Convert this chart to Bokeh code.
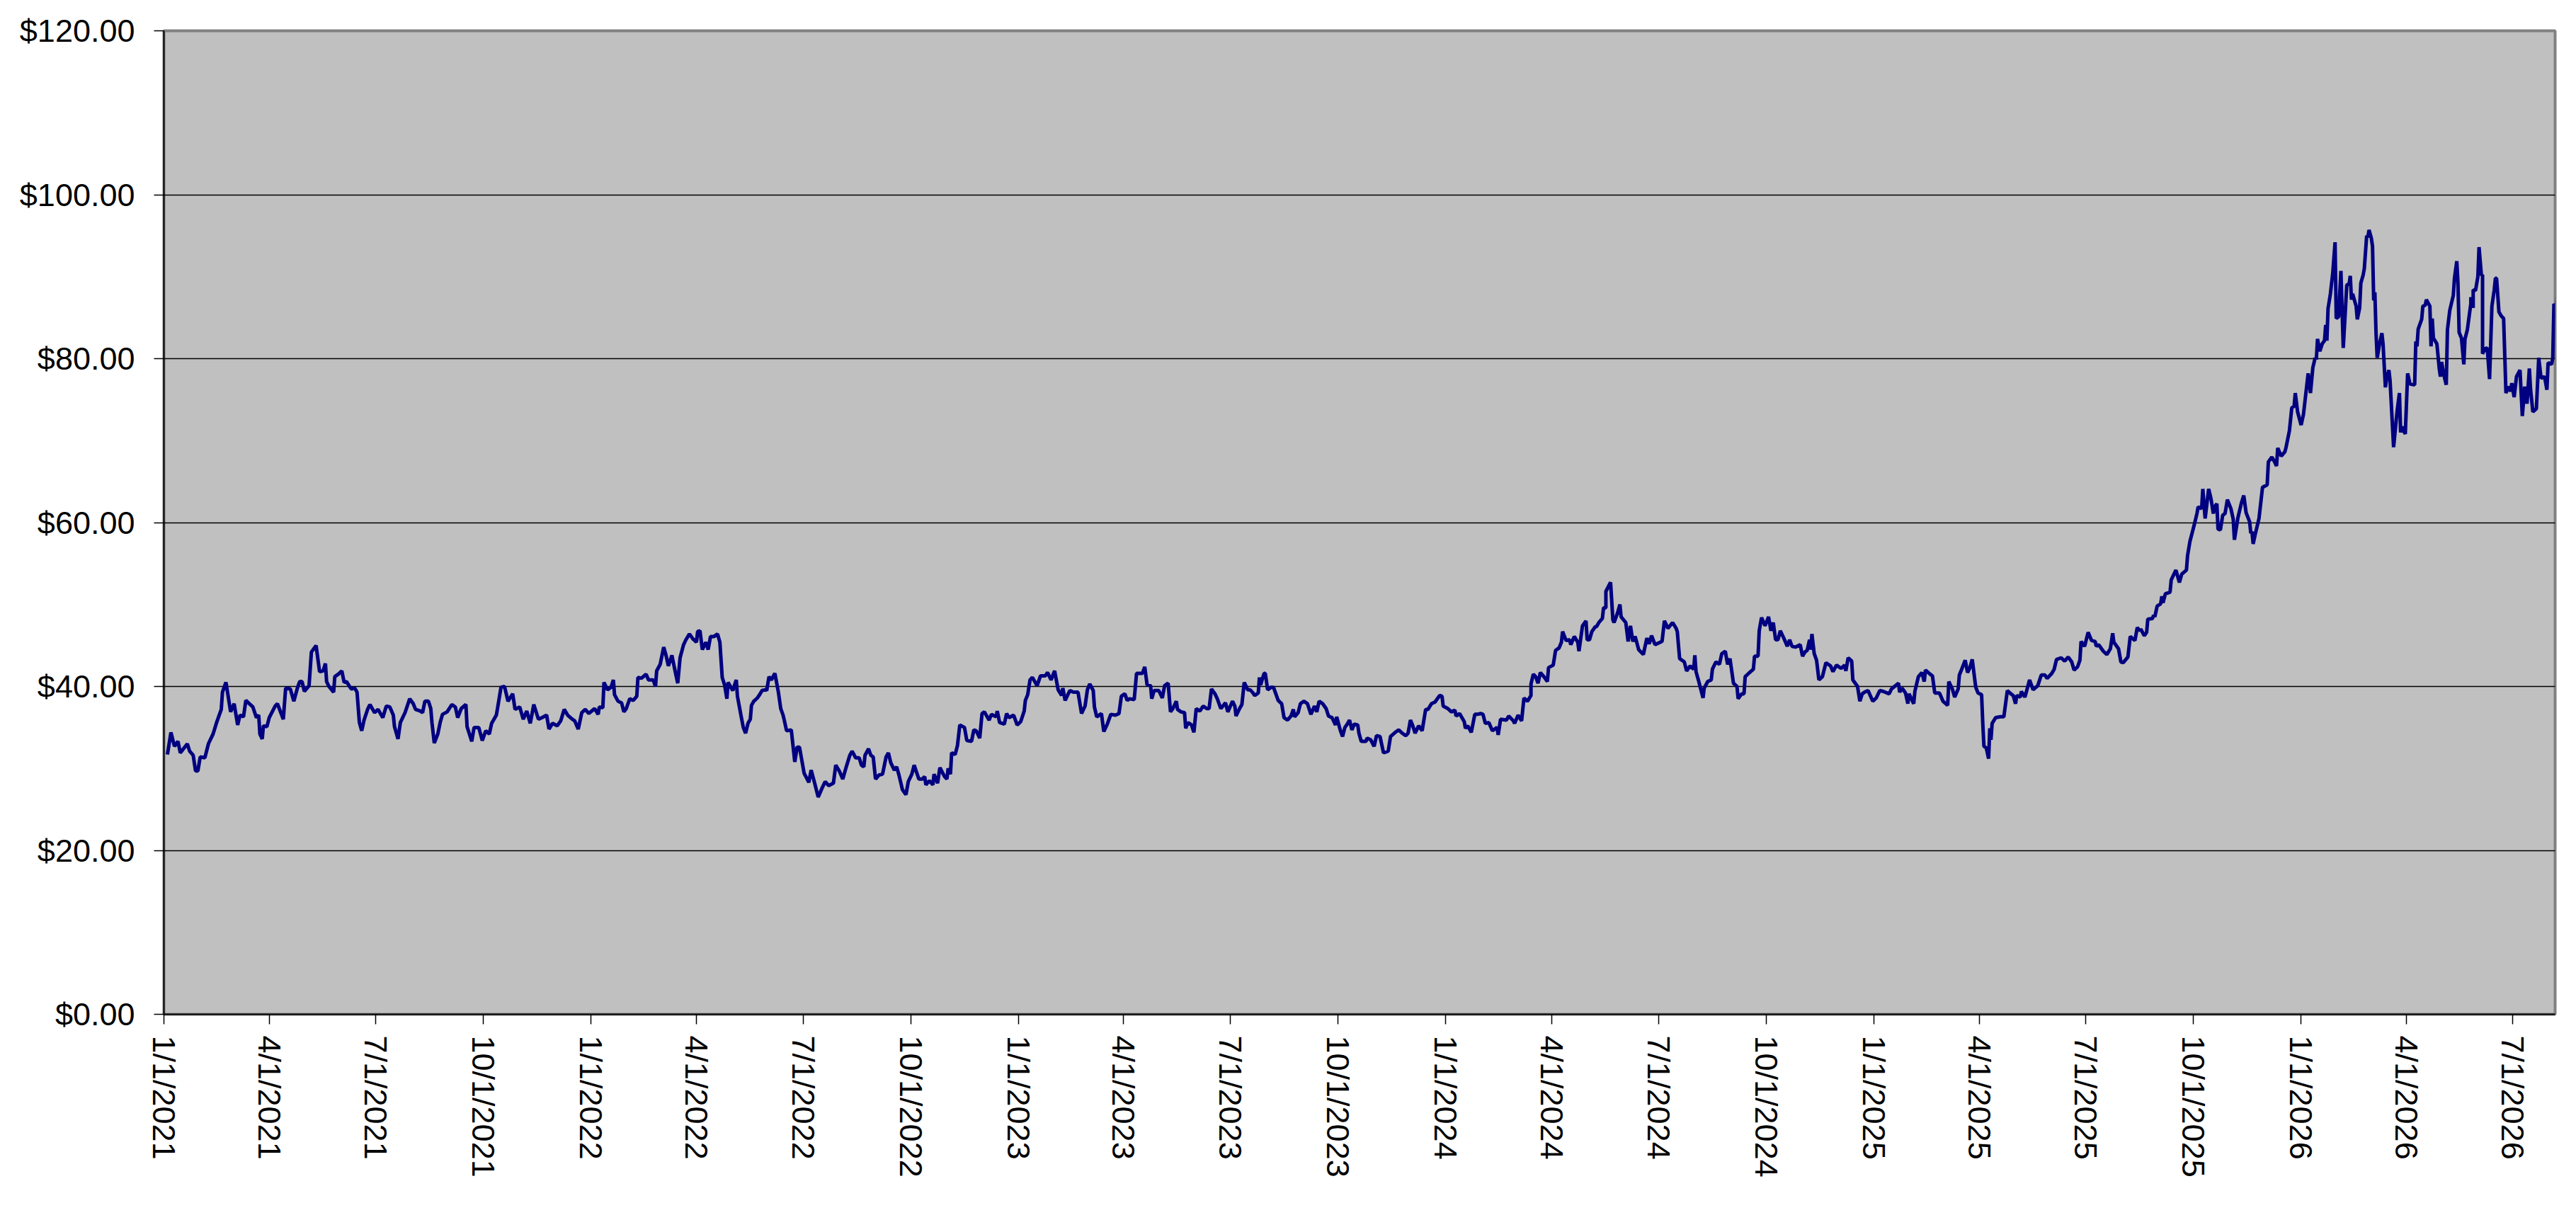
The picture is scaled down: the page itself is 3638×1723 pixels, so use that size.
import pandas as pd
from bokeh.plotting import figure
from bokeh.models import (ColumnDataSource, Range1d, FixedTicker,
                          NumeralTickFormatter, CustomJSTickFormatter)
from bokeh.embed import file_html
from bokeh.resources import INLINE

# ---------------- data (day offsets from start date, price in USD) ----------------
start_date = "2021-01-01"

days_2021 = [3, 6, 9, 12, 14, 20, 22, 25, 27, 29,
             31, 35, 38, 42, 45, 49, 50, 53, 57, 60,
             63, 65, 68, 70, 73, 76, 79, 81, 82, 84,
             85, 88, 90, 95, 97, 102, 104, 108, 111, 114,
             116, 118, 120, 124, 126, 130, 133, 136, 138, 139,
             141, 145, 146, 149, 152, 154, 156, 160, 163, 165,
             167, 169, 171, 174, 176, 180, 183, 187, 190, 193,
             196, 197, 200, 202, 206, 210, 213, 215, 219, 221,
             223, 226, 228, 229, 231, 234, 236, 238, 242, 246,
             249, 251, 254, 258, 259, 263, 265, 269, 272, 275,
             278, 280, 284, 285, 288, 291, 294, 298, 300, 304,
             307, 310, 313, 316, 320, 323, 327, 329, 332, 336,
             339, 342, 345, 349, 351, 354, 357, 360]
usd_2021 = [31.7, 34.4, 32.7, 33.3, 31.9, 33.0, 32.1, 31.6, 29.7, 29.7,
            31.4, 31.3, 33.0, 34.2, 35.6, 37.2, 39.3, 40.5, 36.9, 37.9,
            35.3, 36.5, 36.3, 38.3, 37.9, 37.5, 36.2, 36.5, 34.2, 33.6,
            35.2, 35.1, 36.2, 37.6, 37.9, 36.0, 39.8, 39.7, 38.2, 39.8,
            40.6, 40.6, 39.4, 40.1, 44.2, 45.0, 41.8, 41.9, 42.8, 40.6,
            40.0, 39.3, 41.2, 41.5, 41.9, 40.5, 40.6, 39.7, 39.8, 39.3,
            35.6, 34.6, 35.9, 37.2, 37.8, 36.8, 37.2, 36.2, 37.6, 37.5,
            36.5, 35.1, 33.6, 35.6, 36.8, 38.5, 37.9, 37.2, 37.0, 36.8,
            38.2, 38.2, 37.3, 35.6, 33.1, 34.2, 35.6, 36.6, 36.9, 37.8,
            37.5, 36.2, 37.3, 37.8, 35.1, 33.3, 35.0, 35.0, 33.4, 34.6,
            34.2, 35.5, 36.5, 37.3, 39.9, 40.0, 38.2, 39.1, 37.2, 37.5,
            36.0, 37.0, 35.5, 37.8, 36.0, 36.2, 36.5, 34.8, 35.5, 35.2,
            35.8, 37.2, 36.5, 36.0, 35.8, 34.8, 36.8, 37.2]

days_2022 = [363, 368, 371, 372, 375, 376, 379, 382, 384, 385,
             388, 391, 393, 395, 398, 401, 404, 405, 408, 412,
             414, 418, 420, 421, 424, 427, 429, 431, 434, 437,
             439, 441, 444, 446, 449, 452, 455, 456, 458, 460,
             463, 465, 467, 470, 473, 475, 477, 479, 481, 482,
             486, 489, 490, 493, 495, 497, 499, 501, 502, 504,
             507, 509, 511, 514, 515, 517, 519, 522, 525, 527,
             529, 530, 532, 536, 539, 541, 543, 545, 547, 551,
             553, 556, 559, 562, 565, 568, 572, 574, 577, 580,
             583, 586, 588, 591, 594, 596, 598, 599, 602, 604,
             606, 608, 611, 614, 617, 619, 621, 624, 626, 628,
             631, 634, 636, 639, 641, 645, 648, 650, 651, 654,
             657, 658, 661, 663, 667, 669, 670, 672, 673, 676,
             678, 680, 684, 686, 690, 692, 694, 697, 699, 701,
             705, 707, 711, 712, 714, 718, 720, 722]
usd_2022 = [36.7, 37.3, 36.6, 37.5, 37.4, 40.5, 39.6, 39.9, 40.8, 39.0,
            38.2, 38.0, 36.9, 37.3, 38.5, 38.3, 38.8, 41.1, 41.0, 41.5,
            40.8, 40.8, 40.0, 41.9, 42.7, 44.8, 43.8, 42.5, 43.8, 41.7,
            40.4, 43.5, 45.1, 45.7, 46.4, 45.8, 45.4, 46.7, 46.8, 44.5,
            45.4, 44.5, 46.1, 46.1, 46.4, 45.4, 41.1, 40.2, 38.5, 40.5,
            39.5, 40.8, 38.8, 36.5, 35.0, 34.3, 35.5, 36.0, 37.7, 38.2,
            38.6, 39.0, 39.5, 39.6, 39.5, 41.2, 40.8, 41.6, 39.3, 37.3,
            36.5, 35.9, 34.6, 34.7, 30.8, 32.6, 32.6, 31.0, 29.4, 28.3,
            29.8, 28.2, 26.5, 27.5, 28.4, 27.9, 28.2, 30.4, 29.7, 28.7,
            30.2, 31.6, 32.1, 31.3, 31.3, 30.4, 30.2, 31.6, 32.4, 31.6,
            31.4, 28.7, 29.2, 29.3, 31.4, 31.9, 30.7, 29.8, 30.2, 29.2,
            27.4, 26.8, 28.4, 29.3, 30.4, 28.7, 28.7, 29.0, 28.0, 28.5,
            28.0, 29.3, 28.2, 30.1, 29.0, 28.7, 30.0, 29.3, 31.9, 31.7,
            32.8, 35.3, 35.0, 33.4, 33.3, 34.7, 34.6, 33.7, 36.7, 36.9,
            35.9, 36.6, 36.3, 37.0, 35.6, 35.4, 36.7, 36.2]

days_2023 = [726, 729, 732, 735, 736, 738, 740, 742, 746, 749,
             753, 755, 758, 761, 764, 767, 768, 770, 774, 777,
             781, 784, 787, 789, 791, 794, 795, 797, 801, 803,
             806, 809, 813, 816, 818, 821, 823, 825, 829, 831,
             833, 836, 838, 840, 843, 844, 846, 850, 853, 855,
             858, 860, 862, 865, 866, 869, 872, 873, 875, 878,
             880, 882, 885, 888, 891, 893, 895, 898, 900, 903,
             907, 909, 913, 915, 916, 919, 921, 923, 926, 928,
             930, 932, 935, 936, 937, 940, 941, 943, 946, 948,
             952, 955, 957, 960, 963, 965, 966, 969, 971, 974,
             977, 980, 983, 985, 987, 990, 993, 995, 998, 1001,
             1002, 1005, 1007, 1009, 1011, 1013, 1015, 1017, 1020, 1021,
             1023, 1027, 1028, 1031, 1034, 1036, 1039, 1042, 1046, 1048,
             1052, 1055, 1058, 1061, 1063, 1065, 1067, 1069, 1072, 1075,
             1078, 1080, 1083, 1086]
usd_2023 = [36.5, 35.3, 35.7, 37.0, 38.3, 39.0, 40.8, 41.1, 40.1, 41.3,
            41.3, 41.7, 40.8, 41.9, 39.6, 38.9, 39.8, 38.3, 39.5, 39.3,
            39.3, 36.7, 37.6, 39.6, 40.3, 39.5, 37.5, 36.3, 36.7, 34.5,
            35.4, 36.6, 36.5, 36.7, 38.8, 39.1, 38.3, 38.5, 38.4, 41.6,
            41.6, 41.6, 42.4, 40.2, 40.1, 38.5, 39.5, 39.5, 38.6, 40.1,
            40.4, 36.9, 37.3, 38.2, 37.2, 36.9, 36.8, 34.9, 35.6, 35.3,
            34.4, 37.3, 37.0, 37.6, 37.3, 37.3, 39.7, 39.1, 38.5, 37.3,
            38.0, 36.9, 38.2, 37.6, 36.4, 37.3, 37.8, 40.5, 39.6, 39.6,
            39.3, 38.9, 39.2, 41.1, 40.2, 41.6, 41.6, 39.6, 39.9, 39.9,
            38.3, 37.9, 36.2, 35.9, 36.4, 37.2, 36.3, 36.8, 37.9, 38.2,
            37.9, 36.6, 37.6, 36.9, 38.2, 37.9, 37.3, 36.4, 36.2, 35.3,
            36.3, 34.7, 33.9, 35.0, 35.4, 35.9, 34.7, 35.4, 35.3, 34.3,
            33.3, 33.3, 33.7, 33.5, 32.7, 34.0, 33.9, 31.9, 32.1, 33.9,
            34.4, 34.7, 34.3, 34.0, 34.3, 35.9, 35.2, 34.3, 35.2, 34.6,
            37.2, 37.2, 37.9, 38.1]

days_2024 = [1090, 1092, 1093, 1097, 1100, 1103, 1104, 1107, 1111, 1112,
             1114, 1117, 1120, 1122, 1125, 1127, 1129, 1132, 1135, 1139,
             1140, 1142, 1147, 1149, 1153, 1154, 1157, 1160, 1162, 1165,
             1168, 1168, 1170, 1172, 1174, 1176, 1179, 1182, 1183, 1187,
             1189, 1192, 1194, 1195, 1198, 1201, 1202, 1205, 1208, 1209,
             1212, 1215, 1216, 1218, 1220, 1223, 1224, 1226, 1229, 1230,
             1232, 1232, 1236, 1238, 1239, 1242, 1244, 1245, 1249, 1251,
             1253, 1255, 1257, 1260, 1264, 1267, 1269, 1271, 1274, 1280,
             1282, 1285, 1289, 1292, 1293, 1295, 1299, 1301, 1304, 1307,
             1308, 1309, 1311, 1315, 1316, 1319, 1322, 1323, 1326, 1329,
             1331, 1334, 1336, 1338, 1341, 1344, 1345, 1348, 1350, 1351,
             1354, 1358, 1359, 1362, 1363, 1365, 1368, 1371, 1373, 1375,
             1377, 1379, 1381, 1384, 1387, 1389, 1391, 1394, 1398, 1400,
             1402, 1404, 1406, 1407, 1408, 1410, 1412, 1414, 1417, 1420,
             1424, 1426, 1429, 1433, 1436, 1437, 1439, 1442, 1443, 1447,
             1449, 1451]
usd_2024 = [38.9, 38.8, 37.6, 37.3, 36.9, 37.1, 36.4, 36.7, 35.7, 34.9,
            35.2, 34.4, 36.6, 36.6, 36.7, 36.6, 35.5, 35.6, 34.6, 35.0,
            34.1, 36.0, 35.9, 36.4, 35.8, 35.5, 36.5, 35.8, 38.6, 38.2,
            38.9, 40.3, 41.5, 41.2, 40.4, 41.7, 41.2, 40.6, 42.3, 42.6,
            44.4, 44.7, 45.4, 46.7, 45.6, 45.7, 45.1, 46.1, 45.4, 44.3,
            47.4, 48.0, 45.7, 45.7, 46.7, 47.3, 47.3, 47.8, 48.3, 49.6,
            49.6, 51.6, 52.7, 48.1, 47.8, 49.0, 50.0, 48.5, 47.8, 45.5,
            47.4, 45.5, 46.1, 44.5, 43.9, 45.9, 45.2, 46.2, 45.1, 45.5,
            48.0, 47.1, 47.8, 47.1, 46.7, 43.4, 43.0, 41.9, 42.5, 42.1,
            43.8, 41.8, 40.8, 38.6, 39.8, 40.6, 40.8, 42.1, 43.0, 42.7,
            44.0, 44.3, 42.7, 43.4, 40.4, 40.0, 38.5, 39.1, 39.1, 41.2,
            41.6, 42.1, 43.7, 43.7, 46.8, 48.4, 47.4, 48.5, 46.8, 47.8,
            45.7, 45.7, 46.8, 45.9, 44.9, 45.7, 44.9, 44.8, 45.1, 43.7,
            44.2, 44.4, 45.7, 44.5, 46.4, 44.0, 43.2, 40.8, 41.2, 42.9,
            42.5, 41.8, 42.6, 42.2, 42.6, 41.9, 43.5, 43.1, 40.8, 40.0,
            38.2, 39.1]

days_2025 = [1453, 1456, 1460, 1463, 1466, 1469, 1474, 1476, 1482, 1483,
             1485, 1488, 1490, 1491, 1495, 1496, 1499, 1502, 1504, 1505,
             1509, 1511, 1513, 1517, 1520, 1524, 1525, 1528, 1530, 1533,
             1534, 1536, 1539, 1541, 1543, 1545, 1548, 1550, 1553, 1554,
             1555, 1557, 1559, 1560, 1561, 1562, 1565, 1569, 1572, 1575,
             1578, 1580, 1582, 1583, 1586, 1587, 1590, 1594, 1597, 1601,
             1604, 1607, 1609, 1613, 1615, 1617, 1621, 1624, 1627, 1630,
             1632, 1635, 1637, 1638, 1641, 1644, 1647, 1650, 1651, 1653,
             1657, 1660, 1663, 1665, 1666, 1670, 1672, 1674, 1678, 1680,
             1684, 1686, 1688, 1689, 1692, 1694, 1695, 1699, 1700, 1701,
             1703, 1706, 1707, 1708, 1710, 1714, 1715, 1719, 1722, 1724,
             1728, 1729, 1731, 1735, 1737, 1738, 1741, 1742, 1744, 1747,
             1749, 1751, 1752, 1754, 1755, 1757, 1759, 1761, 1763, 1766,
             1768, 1769, 1772, 1775, 1777, 1779, 1782, 1783, 1784, 1785,
             1787, 1790, 1793, 1797, 1798, 1801, 1803, 1805, 1806, 1809,
             1812, 1813]
usd_2025 = [39.3, 39.5, 38.2, 38.6, 39.5, 39.4, 39.1, 39.7, 40.4, 39.3,
            39.8, 39.2, 37.9, 39.1, 37.9, 39.4, 41.2, 41.7, 40.6, 42.0,
            41.5, 41.3, 39.2, 39.2, 38.2, 37.7, 40.6, 39.7, 38.7, 39.7,
            41.4, 42.1, 43.2, 41.7, 42.3, 43.3, 39.9, 39.2, 39.0, 35.5,
            32.7, 32.5, 31.2, 34.9, 33.5, 35.5, 36.2, 36.3, 36.3, 39.5,
            39.1, 38.9, 37.9, 38.9, 38.7, 39.4, 38.7, 40.8, 39.6, 40.1,
            41.4, 41.4, 41.0, 41.6, 42.1, 43.3, 43.5, 43.1, 43.6, 43.0,
            42.0, 42.4, 43.2, 45.5, 44.9, 46.6, 45.6, 45.5, 44.9, 45.1,
            44.3, 43.9, 44.6, 46.5, 45.4, 44.6, 43.0, 42.9, 43.6, 46.1,
            45.6, 47.2, 46.8, 47.0, 46.2, 46.6, 48.2, 48.3, 48.7, 48.5,
            49.8, 50.1, 51.0, 50.2, 51.3, 51.5, 53.0, 54.2, 52.7, 53.7,
            54.2, 56.0, 57.7, 59.9, 61.1, 61.9, 61.7, 64.1, 60.5, 64.1,
            62.9, 61.1, 61.9, 62.3, 59.2, 59.1, 60.9, 61.1, 62.8, 61.7,
            60.4, 57.9, 60.6, 62.4, 63.3, 61.2, 60.1, 58.7, 58.9, 57.4,
            58.7, 60.5, 64.3, 64.6, 67.4, 68.0, 67.5, 66.9, 69.1, 68.1,
            68.6, 69.1]

days_2026 = [1816, 1818, 1820, 1821, 1823, 1826, 1828, 1832, 1834, 1836,
             1838, 1839, 1840, 1842, 1844, 1846, 1847, 1848, 1849, 1851,
             1853, 1855, 1856, 1858, 1860, 1862, 1864, 1865, 1867, 1868,
             1869, 1870, 1873, 1874, 1876, 1877, 1879, 1880, 1882, 1883,
             1884, 1886, 1887, 1888, 1889, 1890, 1891, 1893, 1895, 1896,
             1898, 1899, 1901, 1902, 1905, 1908, 1910, 1911, 1912, 1915,
             1917, 1919, 1923, 1924, 1925, 1926, 1929, 1930, 1932, 1933,
             1936, 1937, 1938, 1939, 1942, 1944, 1945, 1946, 1948, 1950,
             1951, 1953, 1956, 1957, 1959, 1960, 1961, 1963, 1965, 1966,
             1968, 1971, 1971, 1973, 1973, 1975, 1977, 1978, 1980, 1981,
             1981, 1983, 1985, 1987, 1989, 1991, 1992, 1993, 1995, 1997,
             1999, 2001, 2003, 2005, 2006, 2008, 2010, 2013, 2015, 2017,
             2019, 2021, 2022, 2024, 2027, 2029, 2031, 2034, 2036, 2037,
             2040, 2041, 2042, 2044, 2045]
usd_2026 = [71.2, 74.0, 74.2, 75.8, 73.5, 71.9, 73.2, 78.2, 75.8, 78.9,
            80.1, 79.9, 82.4, 80.9, 81.8, 82.2, 84.1, 82.2, 86.1, 87.9,
            90.4, 94.2, 84.9, 85.1, 90.7, 81.3, 86.4, 89.0, 89.1, 90.1,
            87.2, 87.9, 86.4, 84.8, 86.2, 89.2, 90.2, 91.0, 95.0, 94.8,
            95.7, 94.7, 93.7, 87.1, 88.1, 83.1, 80.1, 81.8, 83.1, 81.8,
            76.5, 77.5, 78.6, 77.3, 69.2, 73.6, 75.8, 71.0, 71.7, 70.8,
            78.2, 76.9, 76.8, 82.1, 81.5, 83.6, 84.8, 86.4, 86.5, 87.2,
            86.4, 81.5, 84.9, 82.5, 81.8, 78.8, 77.8, 79.6, 78.0, 76.8,
            83.5, 85.9, 87.7, 89.8, 91.9, 89.2, 83.2, 82.5, 79.3, 82.4,
            83.5, 86.7, 87.5, 86.2, 88.4, 88.3, 90.0, 93.6, 90.2, 90.2,
            80.6, 81.2, 81.3, 77.5, 86.4, 88.4, 89.8, 89.8, 85.7, 85.2,
            84.9, 75.8, 76.6, 76.0, 77.0, 75.3, 77.8, 78.6, 73.0, 76.6,
            74.5, 78.8, 76.3, 73.5, 73.9, 80.1, 77.6, 77.8, 76.2, 79.5,
            79.3, 80.1, 86.7, 86.1, 88.1]

tick_dates = ["1/1/2021", "4/1/2021", "7/1/2021", "10/1/2021",
              "1/1/2022", "4/1/2022", "7/1/2022", "10/1/2022",
              "1/1/2023", "4/1/2023", "7/1/2023", "10/1/2023",
              "1/1/2024", "4/1/2024", "7/1/2024", "10/1/2024",
              "1/1/2025", "4/1/2025", "7/1/2025", "10/1/2025",
              "1/1/2026", "4/1/2026", "7/1/2026"]
x_end_date = "2026-08-06"
y_ticks = [0, 20, 40, 60, 80, 100, 120]

# ---------------- build ----------------
segments = [(days_2021, usd_2021), (days_2022, usd_2022), (days_2023, usd_2023),
            (days_2024, usd_2024), (days_2025, usd_2025), (days_2026, usd_2026)]
all_days, all_usd = [], []
for d, v in segments:
    assert len(d) == len(v), (len(d), len(v))
    all_days += d
    all_usd += v

t0 = pd.Timestamp(start_date)
dates = [t0 + pd.Timedelta(days=int(d)) for d in all_days]
src = ColumnDataSource(data=dict(date=dates, price=all_usd))

def ms(ts):
    return pd.Timestamp(ts).value / 1e6

tick_ms = [ms(pd.to_datetime(s, format="%m/%d/%Y")) for s in tick_dates]

FONT = "Liberation Sans"
W, H = 3630, 1715
p = figure(width=W, height=H, x_axis_type="datetime",
           x_range=Range1d(ms(t0), ms(x_end_date)),
           y_range=Range1d(y_ticks[0], y_ticks[-1]),
           output_backend="svg", toolbar_location=None,
           min_border_left=231, min_border_right=22,
           min_border_top=43, min_border_bottom=283)
p.background_fill_color = "#C0C0C0"
p.border_fill_color = "white"
p.outline_line_color = "#808080"
p.outline_line_width = 4

p.line("date", "price", source=src, line_color="#000080", line_width=5)

# y axis
p.yaxis.ticker = FixedTicker(ticks=y_ticks)
p.yaxis.formatter = NumeralTickFormatter(format="$0.00")
p.ygrid.ticker = FixedTicker(ticks=y_ticks[1:-1])
p.ygrid.grid_line_color = "black"
p.ygrid.grid_line_width = 1.5
p.xgrid.grid_line_color = None

# x axis
p.xaxis.ticker = FixedTicker(ticks=tick_ms)
p.xaxis.formatter = CustomJSTickFormatter(code="""
const d = new Date(tick);
return (d.getUTCMonth() + 1) + "/" + d.getUTCDate() + "/" + d.getUTCFullYear();
""")
p.xaxis.major_label_orientation = "vertical"

for ax in (p.xaxis[0], p.yaxis[0]):
    ax.axis_line_color = "black"
    ax.axis_line_width = 2
    ax.major_tick_line_color = "black"
    ax.major_tick_line_width = 1.5
    ax.major_tick_out = 14
    ax.major_tick_in = 0
    ax.minor_tick_line_color = None
    ax.major_label_text_font = FONT
    ax.major_label_text_font_size = "45px"
    ax.major_label_text_color = "black"
p.xaxis.major_label_standoff = 16
p.yaxis.major_label_standoff = 27

open("out.html", "w").write(file_html(p, INLINE))
